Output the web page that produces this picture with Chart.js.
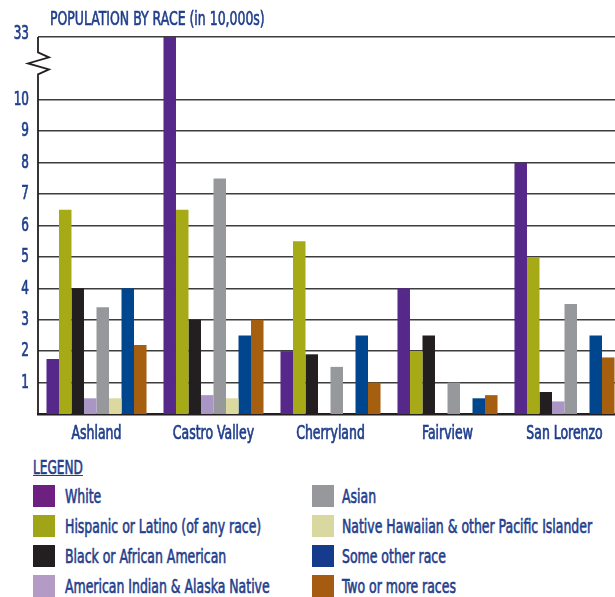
<!DOCTYPE html>
<html>
<head>
<meta charset="utf-8">
<script src="https://cdn.jsdelivr.net/npm/chart.js@4"></script>
<style>
  html, body { margin: 0; padding: 0; background: #fff; width: 615px; height: 597px; overflow: hidden; }
  #wrap { position: relative; width: 615px; height: 597px; overflow: hidden; }
  #chart { position: absolute; left: 0; top: 0; }
  .txt { position: absolute; color: #1f3e8c; font-family: 'DejaVu Sans Condensed', sans-serif; white-space: nowrap;
         font-size: 19px; -webkit-text-stroke: 0.6px #1f3e8c; transform: scaleX(0.73); transform-origin: 0 50%; }
  #title { left: 50px; top: 7px; }
  #legendTitle { left: 33px; top: 456px; text-decoration: underline; transform: scaleX(0.71); }
  .sw { position: absolute; width: 22px; height: 22px; }
  .lab { line-height: 22px; }
</style>
</head>
<body>
<div id="wrap">
  <canvas id="chart" width="630" height="445" style="width:630px;height:445px"></canvas>
  <div id="title" class="txt">POPULATION BY RACE (in 10,000s)</div>
  <div id="legendTitle" class="txt">LEGEND</div>
  <div id="legend"></div>
</div>
<script>
// cities and races
const cities = ['Ashland', 'Castro Valley', 'Cherryland', 'Fairview', 'San Lorenzo'];
const races = [
  'White',
  'Hispanic or Latino (of any race)',
  'Black or African American',
  'American Indian & Alaska Native',
  'Asian',
  'Native Hawaiian & other Pacific Islander',
  'Some other race',
  'Two or more races',
];

// population in 10,000s, one array per race (city order as above)
const white      = [1.75, 33, 2, 4, 8];
const hispanic   = [6.5, 6.5, 5.5, 2, 5];
const black      = [4, 3, 1.9, 2.5, 0.7];
const amIndian   = [0.5, 0.6, 0, 0, 0.4];
const asian      = [3.4, 7.5, 1.5, 1, 3.5];
const hawaiian   = [0.5, 0.5, 0, 0, 0];
const otherRace  = [4, 2.5, 2.5, 0.5, 2.5];
const twoOrMore  = [2.2, 3, 1, 0.6, 1.8];

// y tick labels; the axis is broken between 10 and 33
const yTicks = [1, 2, 3, 4, 5, 6, 7, 8, 9, 10, 33];

const seriesValues = [white, hispanic, black, amIndian, asian, hawaiian, otherRace, twoOrMore];
const barColors = ['#55288a', '#a5aa16', '#231f20', '#a996c4', '#97989b', '#dbd9a0', '#00468e', '#a65f0f'];
const legendColors = ['#6e2080', '#a0a518', '#231f20', '#b39bc5', '#97989b', '#d9d8a0', '#163a8c', '#a65c10'];

const breakLow = 10;
const breakHigh = yTicks[yTicks.length - 1];
// values above the break are squeezed into 2 units of axis
const toAxis = (v) => v <= breakLow ? v : breakLow + 2 * (v - breakLow) / (breakHigh - breakLow);

const fontFamily = "'DejaVu Sans Condensed', sans-serif";
const textBlue = '#1f3e8c';
const squeeze = 0.73; // the original face is a very narrow one

// axis line with the zig-zag break
const brokenAxis = {
  id: 'brokenAxis',
  afterDraw(chart) {
    const ctx = chart.ctx;
    const y = chart.scales.y;
    const x0 = chart.chartArea.left;
    const yTop = y.getPixelForValue(toAxis(breakHigh));
    const yBot = chart.chartArea.bottom;
    const mid = (y.getPixelForValue(breakLow) + yTop) / 2;
    ctx.save();
    ctx.strokeStyle = '#231f20';
    ctx.lineWidth = 1.8;
    ctx.beginPath();
    ctx.moveTo(x0, yTop);
    ctx.lineTo(x0, mid - 16);
    ctx.lineTo(x0 + 11, mid - 11);
    ctx.lineTo(x0 - 10, mid - 5);
    ctx.lineTo(x0 + 11, mid + 1);
    ctx.lineTo(x0, mid + 6);
    ctx.lineTo(x0, yBot);
    ctx.stroke();
    ctx.restore();
  }
};

// fill + thin stroke, squeezed horizontally
function narrowText(ctx, text, px, py, sx) {
  ctx.save();
  ctx.translate(px, py);
  ctx.scale(sx, 1);
  ctx.fillText(text, 0, 0);
  ctx.strokeText(text, 0, 0);
  ctx.restore();
}

// narrow tick labels, drawn at the scales' own tick positions
const narrowLabels = {
  id: 'narrowLabels',
  afterDraw(chart) {
    const ctx = chart.ctx;
    const { x, y } = chart.scales;
    ctx.save();
    ctx.fillStyle = textBlue;
    ctx.strokeStyle = textBlue;
    ctx.lineWidth = 0.7;
    ctx.font = '19px ' + fontFamily;
    ctx.textAlign = 'center';
    ctx.textBaseline = 'alphabetic';
    cities.forEach((c, i) => {
      narrowText(ctx, c, x.getPixelForTick(i), chart.chartArea.bottom + 25, squeeze);
    });
    ctx.font = '20px ' + fontFamily;
    ctx.textAlign = 'right';
    ctx.textBaseline = 'middle';
    yTicks.forEach((t) => {
      const py = y.getPixelForValue(toAxis(t)) - (t === breakHigh ? 3 : 0);
      narrowText(ctx, String(t), chart.chartArea.left - 9, py, 0.67);
    });
    ctx.restore();
  }
};

new Chart(document.getElementById('chart'), {
  type: 'bar',
  data: {
    labels: cities,
    datasets: races.map((race, i) => ({
      label: race,
      data: seriesValues[i].map(toAxis),
      backgroundColor: barColors[i],
      borderWidth: 0,
      barPercentage: 1,
      categoryPercentage: 0.855,
    })),
  },
  options: {
    responsive: false,
    animation: false,
    layout: { padding: { top: 37, right: 7, left: 0, bottom: 0 } },
    plugins: {
      legend: { display: false },
      tooltip: { enabled: false },
    },
    scales: {
      x: {
        grid: { display: false, drawTicks: false },
        border: { display: true, color: '#231f20', width: 2.5 },
        ticks: { display: false },
        afterFit(scale) { scale.height = 31; },
      },
      y: {
        min: 0,
        max: toAxis(breakHigh),
        afterBuildTicks(scale) {
          scale.ticks = yTicks.map((v) => ({ value: toAxis(v) }));
        },
        afterFit(scale) { scale.width = 38; },
        grid: { color: '#3d3d3d', lineWidth: 1.6, drawTicks: false },
        border: { display: false },
        ticks: { display: false },
      },
    },
  },
  plugins: [brokenAxis, narrowLabels],
});

// legend in two columns
const legend = document.getElementById('legend');
races.forEach((race, i) => {
  const col = Math.floor(i / 4);
  const row = i % 4;
  const top = 485 + row * 30;
  const sx = col === 0 ? 33 : 312;
  const tx = col === 0 ? 65 : 342;
  const sw = document.createElement('div');
  sw.className = 'sw';
  sw.style.left = sx + 'px';
  sw.style.top = top + 'px';
  sw.style.background = legendColors[i];
  legend.appendChild(sw);
  const lab = document.createElement('div');
  lab.className = 'txt lab';
  lab.style.left = tx + 'px';
  lab.style.top = top + 'px';
  lab.textContent = race;
  legend.appendChild(lab);
});
</script>
</body>
</html>
